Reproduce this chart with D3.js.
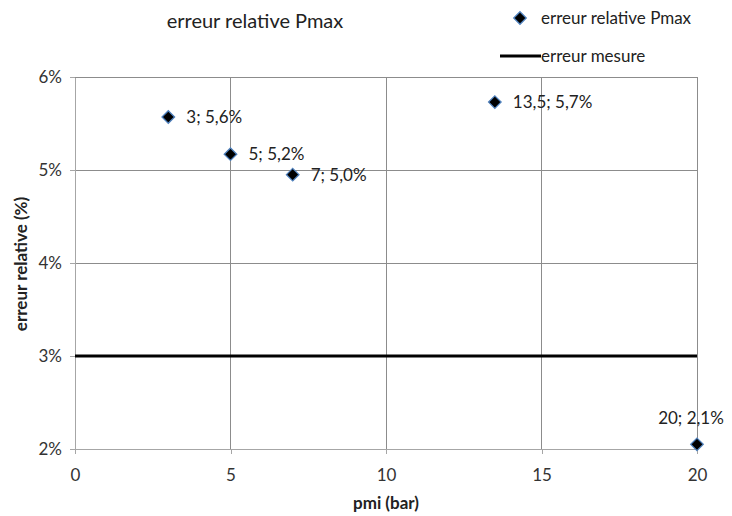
<!DOCTYPE html>
<html><head><meta charset="utf-8">
<script src="https://cdn.jsdelivr.net/npm/d3@7"></script>
<style>body{margin:0;background:#fff}svg{display:block;font-family:Lato,"Open Sans",sans-serif}</style>
</head><body>
<svg id="c" width="732" height="516"></svg>
<script>
const xValues = [3, 5, 7, 13.5, 20];
const yValues = [5.57, 5.17, 4.95, 5.73, 2.05];
const pointLabels = ["3; 5,6%", "5; 5,2%", "7; 5,0%", "13,5; 5,7%", "20; 2,1%"];
const measureError = 3;
const xTicks = [0, 5, 10, 15, 20];
const yTicks = [2, 3, 4, 5, 6];

const svg = d3.select("#c");
const x = d3.scaleLinear().domain([0, 20]).range([75, 697]);
const y = d3.scaleLinear().domain([2, 6]).range([449, 77]);

// gridlines
svg.append("g").selectAll("line").data(yTicks.slice(1)).join("line")
  .attr("x1", 75).attr("x2", 697).attr("y1", d => y(d)).attr("y2", d => y(d))
  .attr("stroke", "#8c8c8c").attr("stroke-width", 1).attr("shape-rendering", "crispEdges");
svg.append("g").selectAll("line").data(xTicks.slice(1)).join("line")
  .attr("y1", 77).attr("y2", 449).attr("x1", d => x(d)).attr("x2", d => x(d))
  .attr("stroke", "#8c8c8c").attr("stroke-width", 1).attr("shape-rendering", "crispEdges");

// axes
const xAxis = svg.append("g").attr("transform", "translate(0,449)")
  .call(d3.axisBottom(x).tickValues(xTicks).tickSize(5).tickPadding(15).tickSizeOuter(0));
const yAxis = svg.append("g").attr("transform", "translate(75,0)")
  .call(d3.axisLeft(y).tickValues(yTicks).tickSize(5).tickPadding(8).tickSizeOuter(0).tickFormat(d => d + "%"));
[xAxis, yAxis].forEach(a => {
  a.selectAll("path,line").attr("stroke", "#a6a6a6").attr("shape-rendering", "crispEdges");
  a.selectAll("text").attr("fill", "#333").style("font-size", "17px").style("font-family", "Lato,'Open Sans',sans-serif");
});

// measure error line
svg.append("line").attr("x1", x(0)).attr("x2", x(20)).attr("y1", y(measureError)).attr("y2", y(measureError))
  .attr("stroke", "#000").attr("stroke-width", 3);

// points
const diamond = d3.symbol().type(d3.symbolDiamond2).size(100);
svg.append("g").selectAll("path").data(xValues).join("path")
  .attr("d", diamond)
  .attr("transform", (d, i) => `translate(${x(d)},${y(yValues[i])})`)
  .attr("fill", "#000").attr("stroke", "#4f81bd").attr("stroke-width", 1.3);

// labels
svg.append("g").selectAll("text").data(xValues).join("text")
  .attr("x", (d, i) => i === 4 ? x(d) - 6 : x(d) + 18)
  .attr("y", (d, i) => i === 4 ? y(yValues[i]) - 20 : y(yValues[i]) + 6)
  .attr("text-anchor", (d, i) => i === 4 ? "middle" : "start")
  .attr("fill", "#222").style("font-size", "17px")
  .text((d, i) => pointLabels[i]);

// title
svg.append("text").attr("x", 255).attr("y", 28).attr("text-anchor", "middle")
  .style("font-size", "20px").attr("fill", "#222").text("erreur relative Pmax");

// axis titles
svg.append("text").attr("x", x(10)).attr("y", 509).attr("text-anchor", "middle")
  .style("font-size", "17px").style("font-weight", "bold").attr("fill", "#222").text("pmi (bar)");
svg.append("text").attr("transform", `translate(27,${y(4) + 1}) rotate(-90)`).attr("text-anchor", "middle")
  .style("font-size", "17px").style("font-weight", "bold").attr("fill", "#222").text("erreur relative (%)");

// legend
svg.append("path").attr("d", diamond).attr("transform", "translate(520,18)")
  .attr("fill", "#000").attr("stroke", "#4f81bd").attr("stroke-width", 1.3);
svg.append("text").attr("x", 541).attr("y", 24).style("font-size", "17px").attr("fill", "#222").text("erreur relative Pmax");
svg.append("line").attr("x1", 500).attr("x2", 541).attr("y1", 56).attr("y2", 56).attr("stroke", "#000").attr("stroke-width", 3);
svg.append("text").attr("x", 541).attr("y", 62).style("font-size", "17px").attr("fill", "#222").text("erreur mesure");
</script>
</body></html>
